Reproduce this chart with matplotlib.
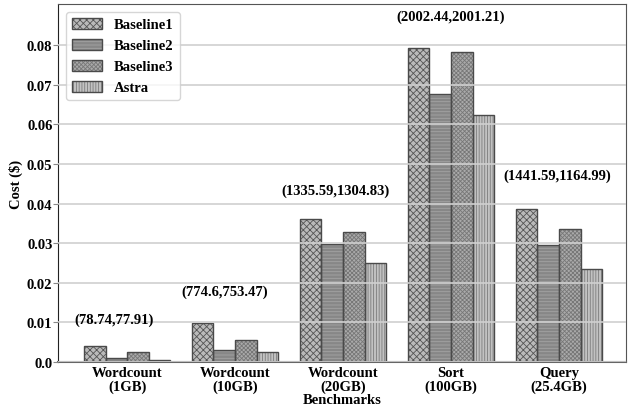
import matplotlib
matplotlib.use("Agg")
import matplotlib.pyplot as plt
from matplotlib.patches import Patch
import numpy as np

categories = ["Wordcount\n(1GB)", "Wordcount\n(10GB)", "Wordcount\n(20GB)", "Sort\n(100GB)", "Query\n(25.4GB)"]
series_names = ["Baseline1", "Baseline2", "Baseline3", "Astra"]
baseline1 = [0.0040, 0.0099, 0.0360, 0.0793, 0.0386]
baseline2 = [0.0011, 0.0030, 0.0298, 0.0678, 0.0296]
baseline3 = [0.0024, 0.0055, 0.0328, 0.0784, 0.0335]
astra = [0.0005, 0.0024, 0.0250, 0.0623, 0.0236]
annotations = ["(78.74,77.91)", "(774.6,753.47)", "(1335.59,1304.83)", "(2002.44,2001.21)", "(1441.59,1164.99)"]
ann_x = [-0.125, -0.10, -0.074, 0.0, -0.02]
ann_y = [0.0109, 0.0179, 0.0434, 0.0874, 0.0472]
yticks = [0.0, 0.01, 0.02, 0.03, 0.04, 0.05, 0.06, 0.07, 0.08]
ytick_labels = ["0.0", "0.01", "0.02", "0.03", "0.04", "0.05", "0.06", "0.07", "0.08"]

plt.rcParams['font.family'] = ['Liberation Serif', 'DejaVu Serif']
plt.rcParams['font.weight'] = 'bold'
plt.rcParams['hatch.linewidth'] = 0.6
FS = 10.5

fig = plt.figure(figsize=(6.28, 4.10), dpi=100)
ax = fig.add_axes([58/628, (410-363)/410, (626-58)/628, (363-5)/410])

x = np.arange(len(categories))
w = 0.2
styles = [
    dict(face="#bababa", hcol="#555555", hatch="xxxxx"),
    dict(face="#878787", hcol="#a4a4a4", hatch="-----"),
    dict(face="#aaaaaa", hcol="#777777", hatch="xxxxxxxx"),
    dict(face="#c2c2c2", hcol="#7c7c7c", hatch="||||||"),
]
edge = "#4a4a4a"
data = [baseline1, baseline2, baseline3, astra]
handles = []
for i, (vals, name, st) in enumerate(zip(data, series_names, styles)):
    xs = x + (i - 1.5) * w
    ax.bar(xs, vals, w, facecolor=st["face"], edgecolor="none", linewidth=0, zorder=1)
    ax.bar(xs, vals, w, facecolor="none", edgecolor=st["hcol"], hatch=st["hatch"], linewidth=0, zorder=1.1)
    ax.bar(xs, vals, w, fill=False, edgecolor=edge, linewidth=1.0, zorder=1.2)
    handles.append((Patch(facecolor=st["face"], edgecolor="none"),
                    Patch(facecolor="none", edgecolor=st["hcol"], hatch=st["hatch"], linewidth=0),
                    Patch(fill=False, edgecolor=edge, linewidth=1.0)))

for xi, yi, t, dx in zip(x, ann_y, annotations, ann_x):
    ax.text(xi + dx, yi, t, ha="center", va="center", fontsize=FS, fontweight="bold")

ax.set_ylim(0, 0.0904)
ax.set_xlim(-0.64, 4.62)
ax.set_yticks(yticks)
ax.set_yticklabels(ytick_labels, fontsize=FS, fontweight="bold")
ax.set_xticks(x)
ax.set_xticklabels(categories, fontsize=FS, fontweight="bold", linespacing=1.05)
ax.tick_params(axis="x", length=0, pad=3)
ax.tick_params(axis="y", length=3.5, color="#888888", pad=0.5)
ax.set_xlabel("Benchmarks", fontsize=FS, fontweight="bold", labelpad=0)
ax.set_ylabel("Cost ($)", fontsize=FS, fontweight="bold", labelpad=2.5)
ax.yaxis.grid(True, color="#d0d0d0", linewidth=1.2, zorder=3)
ax.set_axisbelow(False)
ax.spines["left"].set_color("#222222")
for s in ["top", "right"]:
    ax.spines[s].set_color("#555555")
ax.spines["bottom"].set_color("#666666")
ax.spines["bottom"].set_linewidth(1.5)

leg = ax.legend(handles, series_names, loc="upper left", prop={"weight": "bold", "size": FS},
                handlelength=2.1, handleheight=0.75, borderaxespad=0.55, labelspacing=0.52,
                handletextpad=0.8)
leg.get_frame().set_edgecolor("#cccccc")

fig.savefig("out.png", dpi=100)
